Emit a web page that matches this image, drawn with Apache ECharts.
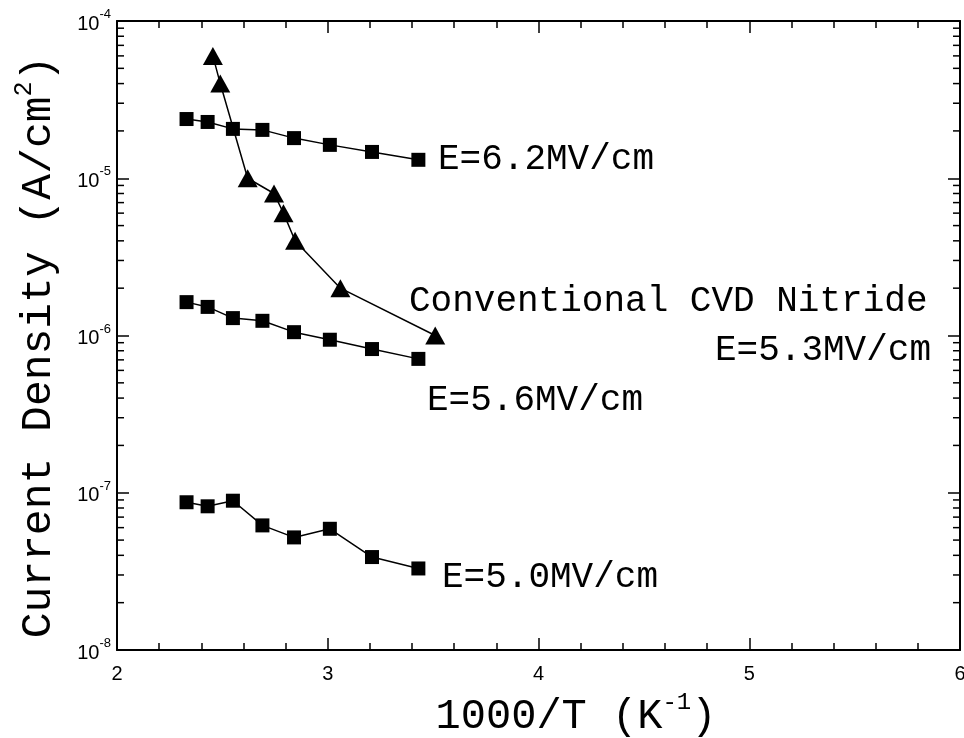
<!DOCTYPE html>
<html>
<head>
<meta charset="utf-8">
<script src="https://cdn.jsdelivr.net/npm/echarts@6/dist/echarts.min.js"></script>
<style>
html,body{margin:0;padding:0;background:#fff;}
#chart{width:964px;height:738px;}
</style>
</head>
<body>
<div id="chart"></div>
<script>
// ---- data ----
const xTickValues = [2, 3, 4, 5, 6];
const yDecades = [1e-8, 1e-7, 1e-6, 1e-5, 1e-4];
const minorMultipliers = [2, 3, 4, 5, 6, 7, 8, 9];

const xSquares = [2.33, 2.43, 2.55, 2.69, 2.84, 3.01, 3.21, 3.43];
const yE62 = [2.38e-5, 2.28e-5, 2.06e-5, 2.03e-5, 1.80e-5, 1.63e-5, 1.47e-5, 1.31e-5];
const yE56 = [1.63e-6, 1.52e-6, 1.29e-6, 1.24e-6, 1.05e-6, 9.4e-7, 8.2e-7, 7.1e-7];
const yE50 = [8.7e-8, 8.2e-8, 8.9e-8, 6.2e-8, 5.2e-8, 5.9e-8, 3.9e-8, 3.3e-8];

const xCVD = [2.455, 2.49, 2.62, 2.745, 2.79, 2.845, 3.06, 3.51];
const yCVD = [6e-5, 4e-5, 1e-5, 8e-6, 6e-6, 4e-6, 2e-6, 1e-6];

const labelE62 = 'E=6.2MV/cm';
const labelE56 = 'E=5.6MV/cm';
const labelE50 = 'E=5.0MV/cm';
const labelCVD1 = 'Conventional CVD Nitride';
const labelCVD2 = 'E=5.3MV/cm';
const xTitle = '1000/T (K';
const xTitleSup = '-1';
const yTitle = 'Current Density (A/cm';
const yTitleSup = '2';

// ---- build ----
const pairs = (xs, ys) => xs.map((x, i) => [x, ys[i]]);
const minorTickValues = [];
for (let d = 0; d < yDecades.length - 1; d++) {
  minorMultipliers.forEach(m => minorTickValues.push([xTickValues[0], m * yDecades[d]]));
}

const MONO = '"Liberation Mono", "DejaVu Sans Mono", monospace';
const SANS = '"Liberation Sans", Arial, sans-serif';

const chart = echarts.init(document.getElementById('chart'), null, {renderer: 'canvas'});

const lineStyle = {color: '#000', width: 1.5};
const sqSeries = (name, ys) => ({
  name, type: 'line', data: pairs(xSquares, ys),
  symbol: 'rect', symbolSize: 14,
  itemStyle: {color: '#000'}, lineStyle,
  animation: false, z: 3
});

const option = {
  animation: false,
  backgroundColor: '#fff',
  grid: {left: 117, right: 4, top: 21, bottom: 88, outerBoundsMode: 'none', containLabel: false},
  xAxis: [{
    type: 'value', min: xTickValues[0], max: xTickValues[xTickValues.length - 1], interval: 1,
    position: 'bottom',
    axisLine: {show: true, lineStyle: {color: '#000', width: 2}},
    axisTick: {show: true, inside: true, length: 12, lineStyle: {color: '#000', width: 1.5}},
    minorTick: {show: true, splitNumber: 5, length: 7, lineStyle: {color: '#000', width: 1.5}},
    axisLabel: {show: true, margin: 14, color: '#000', fontSize: 20, fontFamily: SANS},
    splitLine: {show: false}
  }, {
    type: 'value', min: xTickValues[0], max: xTickValues[xTickValues.length - 1], interval: 1,
    position: 'top',
    axisLine: {show: true, lineStyle: {color: '#000', width: 2}},
    axisTick: {show: true, inside: true, length: 12, lineStyle: {color: '#000', width: 1.5}},
    minorTick: {show: true, splitNumber: 5, length: 7, lineStyle: {color: '#000', width: 1.5}},
    axisLabel: {show: false},
    splitLine: {show: false}
  }],
  yAxis: [{
    type: 'log', logBase: 10, min: yDecades[0], max: yDecades[yDecades.length - 1],
    position: 'left',
    axisLine: {show: true, lineStyle: {color: '#000', width: 2}},
    axisTick: {show: true, inside: true, length: 12, lineStyle: {color: '#000', width: 1.5}},
    minorTick: {show: false},
    axisLabel: {
      show: true, margin: 6,
      formatter: v => '{b|10}{s|' + Math.round(Math.log10(v)) + '}',
      rich: {
        b: {fontSize: 20, fontFamily: SANS, color: '#000', verticalAlign: 'bottom', lineHeight: 26},
        s: {fontSize: 13, fontFamily: SANS, color: '#000', verticalAlign: 'top'}
      }
    },
    splitLine: {show: false}
  }, {
    type: 'log', logBase: 10, min: yDecades[0], max: yDecades[yDecades.length - 1],
    position: 'right',
    axisLine: {show: true, lineStyle: {color: '#000', width: 2}},
    axisTick: {show: true, inside: true, length: 12, lineStyle: {color: '#000', width: 1.5}},
    minorTick: {show: false},
    axisLabel: {show: false},
    splitLine: {show: false}
  }],
  series: [
    {
      type: 'custom', data: minorTickValues, silent: true, clip: false, z: 1,
      renderItem: (params, api) => {
        const v = api.value(1);
        const l = api.coord([xTickValues[0], v]);
        const r = api.coord([xTickValues[xTickValues.length - 1], v]);
        const st = {stroke: '#000', lineWidth: 1.5};
        return {type: 'group', children: [
          {type: 'line', shape: {x1: l[0], y1: l[1], x2: l[0] + 7, y2: l[1]}, style: st},
          {type: 'line', shape: {x1: r[0] - 7, y1: r[1], x2: r[0], y2: r[1]}, style: st}
        ]};
      }
    },
    sqSeries(labelE62, yE62),
    sqSeries(labelE56, yE56),
    sqSeries(labelE50, yE50),
    {
      name: labelCVD1, type: 'line', data: pairs(xCVD, yCVD),
      symbol: 'triangle', symbolSize: [20, 18],
      itemStyle: {color: '#000'}, lineStyle, z: 4
    }
  ],
  graphic: [
    {type: 'text', x: 438, y: 159, style: {text: labelE62, font: '36px ' + MONO, fill: '#000', verticalAlign: 'middle', align: 'left'}},
    {type: 'text', x: 409, y: 301, style: {text: labelCVD1, font: '36px ' + MONO, fill: '#000', verticalAlign: 'middle', align: 'left'}},
    {type: 'text', x: 931, y: 350, style: {text: labelCVD2, font: '36px ' + MONO, fill: '#000', verticalAlign: 'middle', align: 'right'}},
    {type: 'text', x: 427, y: 400, style: {text: labelE56, font: '36px ' + MONO, fill: '#000', verticalAlign: 'middle', align: 'left'}},
    {type: 'text', x: 442, y: 577, style: {text: labelE50, font: '36px ' + MONO, fill: '#000', verticalAlign: 'middle', align: 'left'}},
    {type: 'text', x: 576, y: 714, style: {
      text: '{t|' + xTitle + '}{s|' + xTitleSup + '}{t|)}',
      align: 'center', verticalAlign: 'middle',
      rich: {
        t: {fontSize: 42, fontFamily: MONO, fill: '#000', color: '#000', verticalAlign: 'bottom', lineHeight: 47},
        s: {fontSize: 24, fontFamily: MONO, fill: '#000', color: '#000', verticalAlign: 'top'}
      }
    }},
    {type: 'text', x: 36, y: 347, rotation: Math.PI / 2, style: {
      text: '{t|' + yTitle + '}{s|' + yTitleSup + '}{t|)}',
      align: 'center', verticalAlign: 'middle',
      rich: {
        t: {fontSize: 43, fontFamily: MONO, fill: '#000', color: '#000', verticalAlign: 'bottom', lineHeight: 48},
        s: {fontSize: 25, fontFamily: MONO, fill: '#000', color: '#000', verticalAlign: 'top'}
      }
    }}
  ]
};
chart.setOption(option);
</script>
</body>
</html>
